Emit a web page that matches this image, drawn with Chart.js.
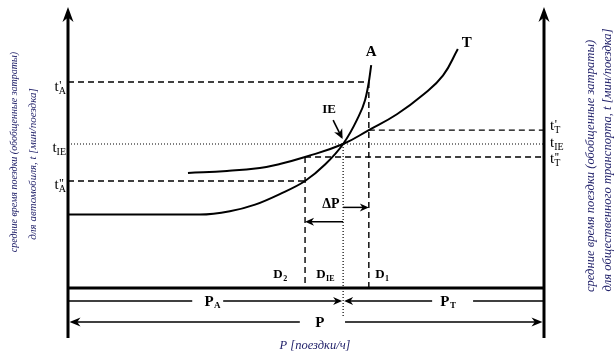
<!DOCTYPE html>
<html><head><meta charset="utf-8">
<script src="https://cdn.jsdelivr.net/npm/chart.js@4.4.1/dist/chart.umd.min.js"></script>
<style>html,body{margin:0;padding:0;background:#fff}#w{width:614px;height:361px;position:relative}</style>
</head><body><div id="w"><canvas id="c"></canvas></div>
<script>
// ---- data (abstract units: P = trips/h, t = min/trip) ----
const A_P = [0, 27.7, 34.0, 39.3, 44.5, 49.8, 54.0, 57.8, 60.7, 62.4, 63.2, 63.7];
const A_t = [26.4, 26.4, 27.6, 30.0, 33.8, 38.5, 44.4, 51.8, 60.5, 67.5, 74.1, 80.2];
const T_P = [25.2, 33.4, 40.3, 44.5, 49.8, 57.8, 63.2, 69.1, 74.6, 78.8, 81.9];
const T_t = [41.4, 42.1, 43.2, 44.6, 47.1, 51.8, 56.8, 62.5, 69.5, 76.5, 86.0];
const P_total = 100;
const P_D2 = 49.8, P_IE = 57.8, P_D1 = 63.2;
const t_A1 = 74.1, t_IE = 51.8, t_A2 = 38.5, t_T1 = 56.8, t_T2 = 47.1;
const y_PA = -4.68, y_P = -12.23, y_axisBottom = -18.0, y_axisTop = 101.1, y_DIEend = -10.8;
const y_dP1 = 29.0, y_dP2 = 23.8;
const IE_arrow_P = [55.7, 57.5], IE_arrow_t = [60.4, 54.2];
const leftTicks = [["t","'","A",t_A1],["t","","IE",t_IE],["t","''","A",t_A2]];
const rightTicks = [["t","'","T",t_T1],["t","","IE",t_IE],["t","''","T",t_T2]];

const X_MIN = -14.286, X_MAX = 114.706, Y_MIN = -26.259, Y_MAX = 103.597;
const INK = '#000';
const TITLE = '#23236b';

function pts(xs, ys){ return xs.map((x,i)=>({x:x, y:ys[i]})); }
function seg(x1,y1,x2,y2,opt){
  return Object.assign({data:[{x:x1,y:y1},{x:x2,y:y2}], borderColor:INK, borderWidth:1.5, pointRadius:0, fill:false, tension:0}, opt||{});
}
const DASH = {borderDash:[6,4], borderWidth:1.4};
const DOT = {borderDash:[1,2], borderWidth:1.2};

const datasets = [
  {data:pts(A_P,A_t), borderColor:INK, borderWidth:2, pointRadius:0, fill:false, cubicInterpolationMode:'monotone'},
  {data:pts(T_P,T_t), borderColor:INK, borderWidth:2, pointRadius:0, fill:false, tension:0.45},
  seg(0,y_axisBottom,0,y_axisTop-2,{borderWidth:3}),
  seg(P_total,y_axisBottom,P_total,y_axisTop-2,{borderWidth:3}),
  seg(0,0,P_total,0,{borderWidth:3}),
  seg(0,t_A1,P_D1,t_A1,DASH),
  seg(0,t_IE,P_total,t_IE,DOT),
  seg(0,t_A2,P_D2,t_A2,DASH),
  seg(P_D1,t_T1,P_total,t_T1,DASH),
  seg(P_D2,t_T2,P_total,t_T2,DASH),
  seg(P_D2,t_T2,P_D2,0,DASH),
  seg(P_D1,t_A1,P_D1,0,DASH),
  seg(P_IE,t_IE,P_IE,y_DIEend,DOT),
  seg(P_IE,y_dP1,P_D1-1,y_dP1),
  seg(P_IE,y_dP2,P_D2+1,y_dP2),
  seg(0,y_PA,26.1,y_PA),
  seg(32.6,y_PA,P_IE-1.2,y_PA),
  seg(P_IE+1.2,y_PA,76.5,y_PA),
  seg(85.1,y_PA,P_total,y_PA),
  seg(0.8,y_P,48.7,y_P),
  seg(58.2,y_P,P_total-0.8,y_P),
  seg(IE_arrow_P[0],IE_arrow_t[0],IE_arrow_P[1],IE_arrow_t[1],{borderWidth:1.6}),
];

function head(ctx, x, y, ang, len, hw){
  ctx.save(); ctx.translate(x,y); ctx.rotate(ang);
  ctx.beginPath(); ctx.moveTo(0,0); ctx.lineTo(-len,-hw); ctx.lineTo(-len*0.7,0); ctx.lineTo(-len,hw); ctx.closePath();
  ctx.fillStyle=INK; ctx.fill(); ctx.restore();
}
function tlabel(ctx, x, y, base, prime, sub, align){
  const f1 = '15px "Liberation Serif", "Times New Roman", serif';
  const f2 = '10px "Liberation Serif", "Times New Roman", serif';
  const f3 = '12px "Liberation Serif", "Times New Roman", serif';
  ctx.font=f1; const wb=ctx.measureText(base).width;
  ctx.font=f3; const wp=ctx.measureText(prime).width;
  ctx.font=f2; const ws=ctx.measureText(sub).width;
  const w = wb + Math.max(wp,ws);
  let x0 = align==='right' ? x-w : x;
  ctx.fillStyle=INK; ctx.textAlign='left'; ctx.textBaseline='alphabetic';
  ctx.font=f1; ctx.fillText(base,x0,y);
  ctx.font=f3; if(prime) ctx.fillText(prime,x0+wb+0.5,y-2);
  ctx.font=f2; ctx.fillText(sub,x0+wb,y+3);
}
function boldSub(ctx, x, y, base, sub, size){
  const f1 = 'bold '+size+'px "Liberation Serif", "Times New Roman", serif';
  const f2 = 'bold '+Math.round(size*0.62)+'px "Liberation Serif", "Times New Roman", serif';
  ctx.font=f1; const wb=ctx.measureText(base).width;
  ctx.font=f2; const ws=ctx.measureText(sub).width;
  const x0 = x-(wb+ws)/2;
  ctx.fillStyle=INK; ctx.textAlign='left'; ctx.textBaseline='middle';
  ctx.font=f1; ctx.fillText(base,x0,y);
  ctx.font=f2; ctx.fillText(sub,x0+wb+0.5,y+4);
}
function vtext(ctx, txt, x, y, size){
  ctx.save(); ctx.translate(x,y); ctx.rotate(-Math.PI/2);
  ctx.font='italic '+size+'px "Liberation Serif", serif';
  ctx.fillText(txt,0,0); ctx.restore();
}

const deco = {
  id:'deco',
  afterDatasetsDraw(chart){
    const ctx=chart.ctx, X=chart.scales.x, Y=chart.scales.y;
    const px=v=>X.getPixelForValue(v), py=v=>Y.getPixelForValue(v);
    head(ctx, px(0), py(y_axisTop), -Math.PI/2, 15, 5.5);
    head(ctx, px(P_total), py(y_axisTop), -Math.PI/2, 15, 5.5);
    head(ctx, px(P_D1), py(y_dP1), 0, 9, 4);
    head(ctx, px(P_D2), py(y_dP2), Math.PI, 9, 4);
    head(ctx, px(P_IE)-1, py(y_PA), 0, 9, 4);
    head(ctx, px(P_IE)+1, py(y_PA), Math.PI, 9, 4);
    head(ctx, px(0)+1.5, py(y_P), Math.PI, 11, 4.5);
    head(ctx, px(P_total)-1.5, py(y_P), 0, 11, 4.5);
    const ax=px(IE_arrow_P[1]), ay=py(IE_arrow_t[1]);
    const ang=Math.atan2(ay-py(IE_arrow_t[0]), ax-px(IE_arrow_P[0]));
    head(ctx, ax+Math.cos(ang)*2, ay+Math.sin(ang)*2, ang, 10, 4.5);

    const off=[9,8,8];
    leftTicks.forEach((t,i)=>tlabel(ctx, px(0)-2, py(t[3])+off[i], t[0], t[1], t[2], 'right'));
    const roff=[0,3,6];
    rightTicks.forEach((t,i)=>tlabel(ctx, px(P_total)+6, py(t[3])+roff[i], t[0], t[1], t[2], 'left'));

    ctx.fillStyle=INK; ctx.textAlign='center'; ctx.textBaseline='middle';
    ctx.font='bold 15px "Liberation Serif", serif';
    ctx.fillText('A', px(A_P[A_P.length-1]), py(A_t[A_t.length-1])-13);
    ctx.fillText('T', px(T_P[T_P.length-1])+9, py(T_t[T_t.length-1])-6);
    ctx.font='bold 13px "Liberation Serif", serif';
    ctx.fillText('IE', px(IE_arrow_P[0])-4, py(IE_arrow_t[0])-10);
    ctx.font='bold 14px "Liberation Serif", serif';
    ctx.fillText('\u0394P', px(55.25), py(30.2));
    const dy=py(0)-13;
    boldSub(ctx, px(P_D2)-25, dy, 'D', '2', 13);
    boldSub(ctx, px(P_IE)-18, dy, 'D', 'IE', 13);
    boldSub(ctx, px(P_D1)+13, dy, 'D', '1', 13);
    boldSub(ctx, px(30.3), py(y_PA)+1, 'P', 'A', 15);
    boldSub(ctx, px(79.8), py(y_PA)+1, 'P', 'T', 15);
    ctx.font='bold 15px "Liberation Serif", serif'; ctx.textAlign='center'; ctx.textBaseline='middle';
    ctx.fillText('P', px(52.9), py(y_P)+1);

    ctx.fillStyle=TITLE; ctx.textBaseline='middle'; ctx.textAlign='center';
    vtext(ctx, 'средние время поездки (обобщенные затраты)', 14, 152, 10);
    vtext(ctx, 'для автомобиля, t [мин/поездка]', 33, 164, 11);
    vtext(ctx, 'средние время поездки (обобщенные затраты)', 591, 166, 12.6);
    vtext(ctx, 'для общественного транспорта, t [мин/поездка]', 608, 160, 12.6);
    ctx.font='italic 12.5px "Liberation Serif", serif';
    ctx.fillText('P [поездки/ч]', 315, 346);
  }
};

new Chart(document.getElementById('c'), {
  type:'line',
  data:{datasets},
  options:{
    responsive:true, maintainAspectRatio:false, animation:false, devicePixelRatio:1,
    layout:{padding:0},
    plugins:{legend:{display:false}, tooltip:{enabled:false}},
    elements:{line:{borderCapStyle:'butt'}},
    scales:{
      x:{type:'linear', min:X_MIN, max:X_MAX, display:false},
      y:{type:'linear', min:Y_MIN, max:Y_MAX, display:false}
    }
  },
  plugins:[deco]
});
</script></body></html>
